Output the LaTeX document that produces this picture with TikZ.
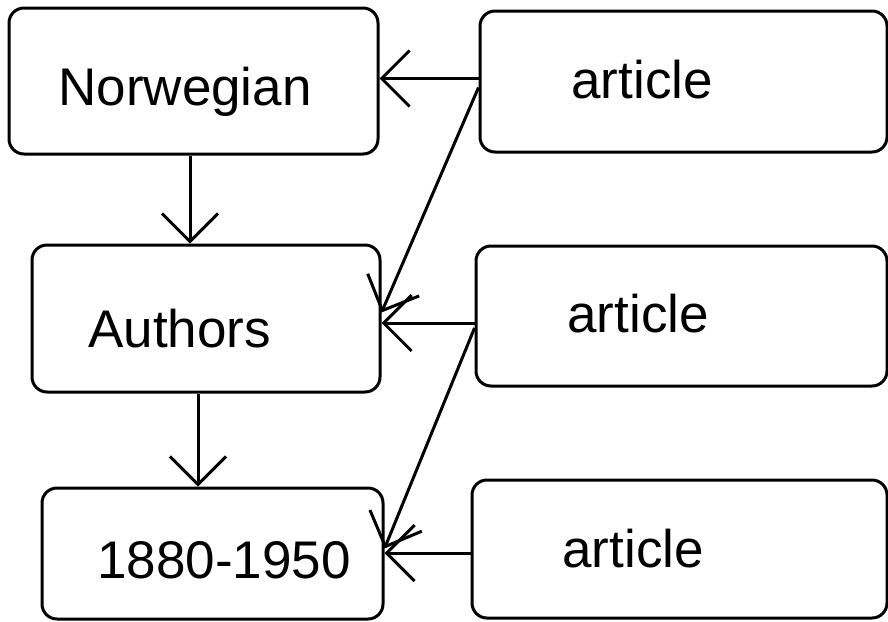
\documentclass[tikz,border=0pt]{standalone}
\usepackage{fontspec}
\setmainfont{Liberation Sans}
\usetikzlibrary{arrows.meta,positioning,calc}

\tikzset{
  box/.style={draw,line width=1.5pt,rounded corners=7.5pt,inner sep=0pt},
  lbl/.style={anchor=base west,inner sep=0pt}
}

\begin{document}
\begin{tikzpicture}[x=0.5pt,y=-0.5pt,font=\fontsize{26.5}{30}\selectfont,
    >={Straight Barb[length=14pt,width=28pt,line width=1.5pt]}]
  \useasboundingbox (0,0) rectangle (888,621);
  % left column
  \node[box,minimum width=184.5pt,minimum height=73pt] (nor) at (193.5,81) {};
  \node[box,minimum width=174pt,minimum height=73.5pt] (aut) at (206,318.5) {};
  \node[box,minimum width=170.5pt,minimum height=65.5pt] (yrs) at (212.5,553.5) {};
  \node[lbl] (nor-t) at (58,105) {Norwegian};
  \node[lbl] (aut-t) at (88,347) {Authors};
  \node[lbl] (yrs-t) at (97,578) {1880-1950};
  % right column
  \node[box,minimum width=203.5pt,minimum height=70.5pt] (art1) at (683.5,81.5) {};
  \node[box,minimum width=205.5pt,minimum height=70pt] (art2) at (681.5,316) {};
  \node[box,minimum width=207.5pt,minimum height=69pt] (art3) at (679.5,549) {};
  \node[lbl] (art1-t) at (571,98) {article};
  \node[lbl] (art2-t) at (567,332) {article};
  \node[lbl] (art3-t) at (562,567) {article};
  % connectors
  \draw[->,line width=1.5pt] ([xshift=-1.75pt]nor.south) -- ([xshift=-1.75pt]nor.south |- aut.north);
  \draw[->,line width=1.5pt] ([xshift=-4pt]aut.south) -- ([xshift=-4pt]aut.south |- yrs.north);
  \draw[->,line width=1.5pt] ([yshift=1.5pt]art1.west) -- ([yshift=1.5pt]art1.west -| nor.east);
  \draw[->,line width=1.5pt] ([yshift=-3pt]art1.west) -- ([yshift=3pt]aut.east);
  \draw[->,line width=1.5pt] ([yshift=-3.5pt]art2.west) -- ([yshift=-3.5pt]art2.west -| aut.east);
  \draw[->,line width=1.5pt] ([yshift=-6pt]art2.west) -- ([yshift=2.5pt]yrs.east);
  \draw[->,line width=1.5pt] ([yshift=-2pt]art3.west) -- ([yshift=-2pt]art3.west -| yrs.east);
\end{tikzpicture}
\end{document}
